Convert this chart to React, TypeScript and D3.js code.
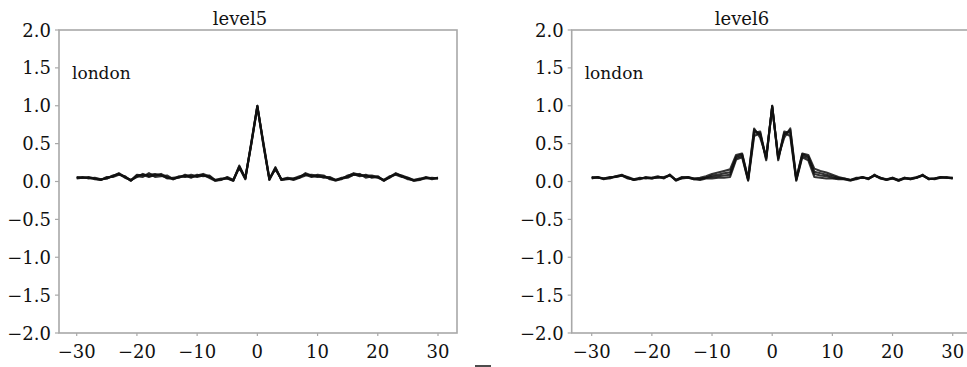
import React from "react";
import * as d3 from "d3";

const xValues: number[] = d3.range(-30, 31);
const xTicks = [-30, -20, -10, 0, 10, 20, 30];
const yTicks = [2.0, 1.5, 1.0, 0.5, 0.0, -0.5, -1.0, -1.5, -2.0];
const titles = ["level5", "level6"];
const cityLabel = "london";

const level5A = [0.06,0.05,0.05,0.04,0.02,0.05,0.07,0.11,0.06,0.01,
 0.09,0.08,0.09,0.10,0.08,0.05,0.03,0.06,0.07,0.06,
 0.08,0.10,0.07,0.01,0.03,0.05,0.01,0.21,0.04,0.52,
 1.00,
 0.50,0.03,0.19,0.02,0.04,0.03,0.06,0.10,0.07,0.06,
 0.07,0.04,0.01,0.04,0.07,0.11,0.09,0.07,0.06,0.07,
 0.01,0.06,0.11,0.07,0.04,0.01,0.03,0.05,0.04,0.05];
const level5B = [0.05,0.06,0.04,0.05,0.03,0.04,0.08,0.10,0.05,0.02,
 0.06,0.10,0.07,0.08,0.10,0.06,0.04,0.05,0.09,0.07,
 0.06,0.08,0.06,0.02,0.04,0.04,0.02,0.18,0.03,0.50,
 0.98,
 0.52,0.04,0.16,0.03,0.05,0.04,0.05,0.08,0.09,0.08,
 0.05,0.05,0.02,0.05,0.06,0.09,0.10,0.05,0.07,0.05,
 0.02,0.05,0.10,0.08,0.05,0.02,0.04,0.04,0.05,0.04];
const level5C = [0.05,0.05,0.05,0.03,0.02,0.06,0.06,0.09,0.07,0.01,
 0.07,0.06,0.11,0.06,0.07,0.08,0.03,0.07,0.06,0.09,
 0.07,0.09,0.05,0.01,0.02,0.06,0.02,0.20,0.05,0.49,
 0.99,
 0.48,0.02,0.18,0.02,0.03,0.04,0.07,0.09,0.06,0.09,
 0.08,0.03,0.02,0.03,0.08,0.10,0.07,0.09,0.05,0.06,
 0.02,0.07,0.09,0.06,0.05,0.01,0.02,0.05,0.03,0.05];
const level5D = [0.04,0.05,0.06,0.04,0.03,0.04,0.07,0.10,0.06,0.02,
 0.08,0.09,0.06,0.09,0.09,0.04,0.05,0.06,0.08,0.05,
 0.09,0.07,0.08,0.02,0.03,0.04,0.01,0.19,0.04,0.51,
 1.00,
 0.49,0.03,0.17,0.03,0.04,0.02,0.05,0.11,0.08,0.07,
 0.06,0.06,0.02,0.04,0.05,0.09,0.08,0.08,0.08,0.06,
 0.01,0.06,0.10,0.07,0.03,0.02,0.03,0.06,0.04,0.04];

const level6A = [0.05,0.06,0.03,0.05,0.07,0.09,0.05,0.02,0.04,0.05,
 0.04,0.06,0.05,0.09,0.01,0.05,0.06,0.03,0.02,0.04,
 0.04,0.05,0.05,0.06,0.29,0.32,0.01,0.60,0.64,0.28,
 1.00,
 0.28,0.64,0.60,0.01,0.32,0.28,0.06,0.05,0.04,0.04,
 0.03,0.03,0.01,0.04,0.06,0.03,0.09,0.04,0.02,0.05,
 0.01,0.04,0.03,0.05,0.09,0.03,0.04,0.06,0.05,0.05];
const level6B = [0.06,0.05,0.04,0.06,0.06,0.08,0.06,0.03,0.03,0.06,
 0.05,0.05,0.06,0.08,0.02,0.04,0.05,0.04,0.03,0.05,
 0.06,0.07,0.08,0.09,0.31,0.34,0.02,0.64,0.66,0.30,
 0.99,
 0.30,0.66,0.64,0.02,0.34,0.31,0.10,0.08,0.07,0.05,
 0.04,0.04,0.02,0.05,0.05,0.04,0.08,0.05,0.03,0.04,
 0.02,0.05,0.04,0.06,0.08,0.04,0.03,0.05,0.06,0.04];
const level6C = [0.04,0.06,0.04,0.04,0.07,0.08,0.04,0.03,0.05,0.04,
 0.05,0.07,0.04,0.09,0.02,0.06,0.05,0.03,0.04,0.05,
 0.08,0.09,0.11,0.12,0.33,0.36,0.03,0.68,0.62,0.31,
 1.00,
 0.31,0.62,0.68,0.03,0.36,0.33,0.13,0.11,0.09,0.07,
 0.05,0.03,0.02,0.03,0.06,0.04,0.08,0.04,0.03,0.05,
 0.02,0.04,0.04,0.05,0.08,0.04,0.04,0.05,0.05,0.05];
const level6D = [0.05,0.05,0.04,0.05,0.06,0.08,0.05,0.02,0.04,0.05,
 0.04,0.06,0.05,0.08,0.02,0.05,0.06,0.04,0.05,0.07,
 0.10,0.12,0.14,0.16,0.35,0.37,0.04,0.70,0.58,0.33,
 0.98,
 0.33,0.58,0.70,0.04,0.37,0.35,0.17,0.14,0.12,0.09,
 0.06,0.04,0.02,0.04,0.05,0.04,0.08,0.05,0.02,0.04,
 0.01,0.05,0.03,0.05,0.08,0.03,0.04,0.06,0.05,0.04];

const panelSeries = [
  [level5A, level5B, level5C, level5D],
  [level6A, level6B, level6C, level6D],
];

const FONT = "DejaVu Serif, Liberation Serif, Noto Serif, serif";

type PanelLayout = {
  frameLeft: number;
  frameRight: number;
  tickLeft: number;
  tickRight: number;
  titleX: number;
};

const layouts: PanelLayout[] = [
  { frameLeft: 59, frameRight: 457, tickLeft: 76.7, tickRight: 438, titleX: 240 },
  { frameLeft: 571.7, frameRight: 972, tickLeft: 591.7, tickRight: 952.7, titleX: 742 },
];

const TOP = 30;
const BOTTOM = 333;

function fmt(v: number) {
  const s = v.toFixed(1);
  return v < 0 ? "\u2212" + s.slice(1) : s;
}
function fmtX(v: number) {
  return v < 0 ? "\u2212" + String(-v) : String(v);
}

function Panel({ idx }: { idx: number }) {
  const L = layouts[idx];
  const x = d3.scaleLinear().domain([-30, 30]).range([L.tickLeft, L.tickRight]);
  const y = d3.scaleLinear().domain([-2, 2]).range([BOTTOM, TOP]);
  const line = d3
    .line<number>()
    .x((_, i) => x(xValues[i]))
    .y((d) => y(d));
  const frameColor = "#a8a8a8";
  return (
    <g fontFamily={FONT}>
      <text x={L.titleX} y={25} textAnchor="middle" fontSize={18} fill="#111">
        {titles[idx]}
      </text>
      <rect
        x={L.frameLeft}
        y={TOP}
        width={L.frameRight - L.frameLeft}
        height={BOTTOM - TOP}
        fill="none"
        stroke={frameColor}
        strokeWidth={1.6}
      />
      {yTicks.map((t) => (
        <g key={"y" + t}>
          <line x1={L.frameLeft - 4} x2={L.frameLeft} y1={y(t)} y2={y(t)} stroke={frameColor} strokeWidth={1.2} />
          <text x={L.frameLeft - 8} y={y(t) + 6.5} textAnchor="end" fontSize={18} fill="#111">
            {fmt(t)}
          </text>
        </g>
      ))}
      {xTicks.map((t) => (
        <g key={"x" + t}>
          <line x1={x(t)} x2={x(t)} y1={BOTTOM} y2={BOTTOM + 3} stroke={frameColor} strokeWidth={1.2} />
          <text x={x(t)} y={358} textAnchor="middle" fontSize={18} fill="#111">
            {fmtX(t)}
          </text>
        </g>
      ))}
      <text x={L.frameLeft + 13} y={79} fontSize={17} fill="#111">
        {cityLabel}
      </text>
      {panelSeries[idx].map((s, i) => (
        <path
          key={i}
          d={line(s) || ""}
          fill="none"
          stroke="#111"
          strokeWidth={2.1}
          strokeLinejoin="round"
          strokeOpacity={0.85}
        />
      ))}
    </g>
  );
}

export default function App() {
  return (
    <svg
      width={967}
      height={367}
      style={{ position: "absolute", left: 0, top: 0, background: "#fff" }}
    >
      <rect x={0} y={0} width={967} height={367} fill="#fff" />
      <Panel idx={0} />
      <Panel idx={1} />
      <line x1={475} x2={491} y1={366} y2={366} stroke="#111" strokeWidth={1.5} />
    </svg>
  );
}
